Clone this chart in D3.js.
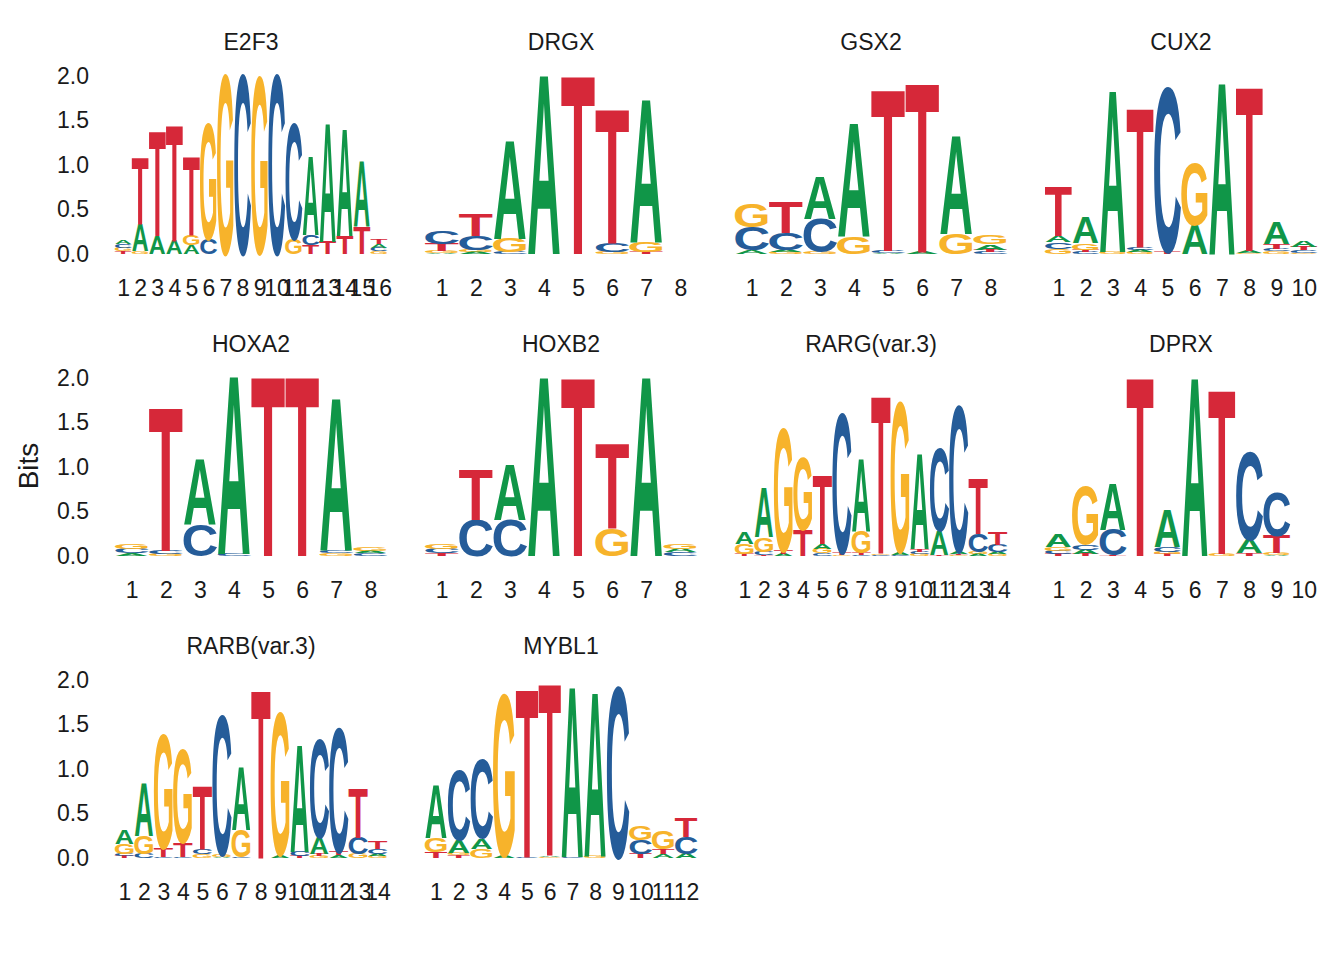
<!DOCTYPE html>
<html><head><meta charset="utf-8">
<script src="https://cdn.jsdelivr.net/npm/d3@7"></script>
<style>body{margin:0;background:#fff}</style></head>
<body><svg id="c" width="1344" height="960"></svg>
<script>
const motifNames = ["E2F3","DRGX","GSX2","CUX2","HOXA2","HOXB2","RARG(var.3)","DPRX","RARB(var.3)","MYBL1"];
const E2F3 = [
 {G:0.04,C:0.04,A:0.04,T:0.03},{G:0.03,A:0.3,T:0.75},{A:0.2,T:1.16},{A:0.15,T:1.29},{A:0.1,G:0.11,T:0.88},
 {C:0.17,G:1.29},{G:2.0},{C:2.0},{G:1.97},{C:2.0},{G:0.17,C:1.29},{T:0.1,C:0.11,A:0.88},
 {T:0.14,A:1.33},{T:0.2,A:1.19},{T:0.3,A:0.74},{G:0.03,C:0.04,A:0.04,T:0.05}];
const DRGX = [
 {A:0.01,G:0.02,T:0.08,C:0.14},{A:0.02,G:0.03,C:0.15,T:0.24},{C:0.02,G:0.15,A:1.1},{A:2.0},
 {T:1.98},{G:0.02,C:0.1,T:1.5},{T:0.02,G:0.11,A:1.6},{}];
const GSX2 = [
 {A:0.04,C:0.26,G:0.26},{G:0.02,A:0.03,C:0.19,T:0.34},{G:0.02,C:0.37,A:0.47},{G:0.19,A:1.27},
 {A:0.01,C:0.02,T:1.8},{A:0.02,T:1.88},{G:0.23,A:1.1},{C:0.02,T:0.03,A:0.06,G:0.1}];
const CUX2 = [
 {G:0.06,C:0.07,A:0.07,T:0.54},{C:0.02,T:0.03,G:0.07,A:0.28},{G:0.02,A:1.8},{G:0.02,A:0.02,C:0.03,T:1.55},
 {T:0.02,C:1.83},{A:0.33,G:0.69},{A:1.92},{G:0.01,A:0.02,T:1.83},{G:0.03,C:0.03,T:0.05,A:0.25},{G:0.01,C:0.03,T:0.04,A:0.07}];
const HOXA2 = [
 {A:0.03,C:0.05,G:0.06},{G:0.02,C:0.04,T:1.6},{C:0.35,A:0.73},{C:0.02,A:1.98},{T:2.0},{T:2.0},
 {G:0.03,C:0.03,A:1.7},{C:0.03,A:0.03,G:0.04}];
const HOXB2 = [
 {T:0.03,C:0.05,G:0.06},{C:0.4,T:0.56},{C:0.4,A:0.62},{A:2.0},{T:1.98},{G:0.3,T:0.95},{A:2.0},{C:0.04,A:0.04,G:0.06}];
const RARG = [
 {T:0.02,G:0.12,A:0.13},{T:0.01,C:0.04,G:0.16,A:0.55},{A:0.02,T:0.04,G:1.37},{T:0.29,G:0.8},
 {C:0.03,G:0.05,A:0.05,T:0.76},{G:0.01,T:0.02,C:1.55},{C:0.01,T:0.02,G:0.25,A:0.8},{C:0.01,G:0.01,T:1.75},
 {C:0.01,A:0.03,G:1.67},{C:0.03,G:0.02,T:0.03,A:1.07},{T:0.01,A:0.27,C:0.92},{G:0.01,T:0.01,A:0.02,C:1.63},
 {A:0.02,G:0.03,C:0.2,T:0.62},{G:0.02,A:0.02,C:0.08,T:0.14}];
const DPRX = [
 {T:0.02,C:0.04,G:0.04,A:0.14},{T:0.02,A:0.05,C:0.06,G:0.65},{T:0.01,C:0.28,A:0.52},{T:1.98},
 {T:0.02,G:0.03,C:0.05,A:0.42},{A:1.98},{G:0.02,T:1.83},{T:0.03,A:0.15,C:0.98},{A:0.01,G:0.02,T:0.2,C:0.49},{}];
const RARB = [
 {T:0.02,C:0.02,G:0.12,A:0.15},{C:0.05,G:0.2,A:0.59},{C:0.01,T:0.1,G:1.27},{C:0.01,T:0.16,G:1.04},
 {G:0.04,C:0.05,T:0.71},{A:0.01,G:0.02,C:1.55},{C:0.01,G:0.3,A:0.71},{T:1.87},{A:0.03,G:1.58},
 {T:0.02,C:0.05,A:1.2},{G:0.02,T:0.02,A:0.19,C:1.1},{A:0.03,T:0.04,C:1.38},{G:0.05,C:0.18,T:0.55},{G:0.02,A:0.02,C:0.06,T:0.09}];
const MYBL1 = [
 {T:0.07,G:0.15,A:0.59},{T:0.03,G:0.03,A:0.14,C:0.77},{A:0.12,G:0.1,C:0.88},{A:0.02,G:1.8},
 {C:0.01,T:1.87},{G:0.01,A:0.01,T:1.92},{C:0.01,A:1.9},{G:0.02,A:1.83},{C:1.9},
 {T:0.05,C:0.15,G:0.15},{A:0.04,T:0.06,G:0.2},{A:0.05,C:0.19,T:0.22}];
const motifData = [E2F3,DRGX,GSX2,CUX2,HOXA2,HOXB2,RARG,DPRX,RARB,MYBL1];
const yTicks = [0,0.5,1,1.5,2];
const letterColors = {A:"#109648",C:"#255C99",G:"#F7B32B",T:"#D62839"};
const inkW = {A:70,C:64,G:68,T:58};
const capH = 69;

const svg = d3.select("#c");
const font = "Liberation Sans, Arial, sans-serif";
const panelW = 300;
motifData.forEach((data,i)=>{
  const col = i%4, row = Math.floor(i/4);
  const x0 = 101 + col*310, n = data.length, e = 0.05*n;
  const x = d3.scaleLinear().domain([0.5-e, n+0.5+e]).range([x0, x0+panelW]);
  const y = d3.scaleLinear().domain([0,2]).range([254+row*302, 76+row*302]);
  const g = svg.append("g");
  g.append("text").attr("x",x0+panelW/2).attr("y",y(2)-34).attr("dy","0.35em")
   .attr("text-anchor","middle").attr("font-family",font).attr("font-size",23).attr("fill","#1a1a1a").text(motifNames[i]);
  if(col===0){
    const ya = d3.axisLeft(y).tickValues(yTicks).tickFormat(d3.format(".1f")).tickSize(0).tickPadding(0);
    const ag = g.append("g").attr("transform",`translate(${x0-12},0)`).call(ya);
    ag.select(".domain").remove();
    ag.selectAll("text").attr("font-family",font).attr("font-size",23).attr("fill","#1a1a1a");
  }
  const xa = d3.axisBottom(x).tickValues(d3.range(1,n+1)).tickFormat(d3.format("d")).tickSize(0).tickPadding(0);
  const xg = g.append("g").attr("transform",`translate(0,${y(0)+26})`).call(xa);
  xg.select(".domain").remove();
  xg.selectAll("text").attr("font-family",font).attr("font-size",23).attr("fill","#1a1a1a");
  const colW = (x(2)-x(1))*0.96;
  data.forEach((pos,j)=>{
    const entries = Object.entries(pos).sort((a,b)=>a[1]-b[1]);
    let base = 0;
    entries.forEach(([L,h])=>{
      const yb = y(base), yt = y(base+h);
      const sx = colW/inkW[L], sy = (yb-yt)/capH;
      g.append("text").text(L)
       .attr("transform",`translate(${x(j+1)},${yb}) scale(${sx},${sy})`)
       .attr("text-anchor","middle").attr("font-family",font).attr("font-weight","bold")
       .attr("font-size",100).attr("fill",letterColors[L]);
      base += h;
    });
  });
});
svg.append("text").attr("transform","translate(28,466) rotate(-90)").attr("text-anchor","middle")
 .attr("dy","0.35em").attr("font-family",font).attr("font-size",28).attr("fill","#1a1a1a").text("Bits");
</script></body></html>
